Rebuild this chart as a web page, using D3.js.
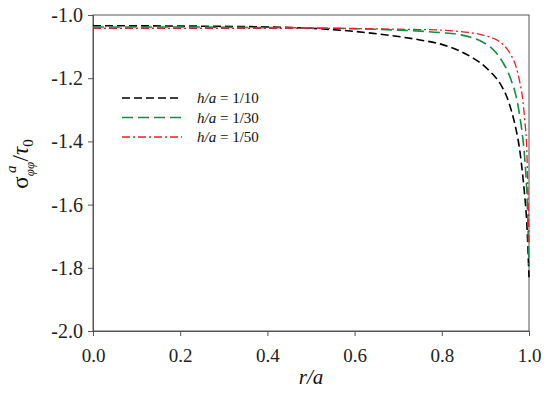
<!DOCTYPE html>
<html>
<head>
<meta charset="utf-8">
<script src="https://cdn.jsdelivr.net/npm/d3@7"></script>
<style>
body { margin: 0; background: #fff; }
svg text { font-family: "Liberation Serif", "Times New Roman", Times, serif; }
</style>
</head>
<body>
<script>
// data
var rPts = [0, 0.2, 0.4, 0.5, 0.6, 0.7, 0.75, 0.8, 0.84, 0.87, 0.89, 0.91, 0.925, 0.94, 0.95, 0.96, 0.97, 0.98, 0.985, 0.99, 0.995, 1.0];
var h10 = [-1.034, -1.035, -1.038, -1.042, -1.052, -1.068, -1.079, -1.093, -1.113, -1.135, -1.153, -1.178, -1.2, -1.232, -1.262, -1.305, -1.36, -1.44, -1.5, -1.57, -1.66, -1.83];
var h30 = [-1.038, -1.038, -1.040, -1.041, -1.043, -1.048, -1.051, -1.056, -1.062, -1.072, -1.083, -1.1, -1.12, -1.15, -1.175, -1.21, -1.255, -1.33, -1.38, -1.45, -1.56, -1.79];
var h50 = [-1.042, -1.042, -1.042, -1.042, -1.043, -1.045, -1.046, -1.048, -1.052, -1.057, -1.062, -1.07, -1.078, -1.093, -1.108, -1.13, -1.162, -1.22, -1.26, -1.33, -1.43, -1.72];
var seriesNames = ["1/10", "1/30", "1/50"];
var xTicks = [0, 0.2, 0.4, 0.6, 0.8, 1.0];
var yTicks = [-1.0, -1.2, -1.4, -1.6, -1.8, -2.0];

var W = 550, H = 393;
var m = {left: 93, right: 21, top: 15, bottom: 62};
var serif = "'Liberation Serif', 'Times New Roman', serif";

var svg = d3.select("body").append("svg")
    .attr("width", W)
    .attr("height", H);

var x = d3.scaleLinear().domain([0, 1]).range([m.left, W - m.right]);
var y = d3.scaleLinear().domain([-2.0, -1.0]).range([H - m.bottom, m.top]);

var frameCol = "#555";

// frame
svg.append("rect")
    .attr("x", x(0)).attr("y", y(-1))
    .attr("width", x(1) - x(0)).attr("height", y(-2) - y(-1))
    .attr("fill", "none").attr("stroke", frameCol).attr("stroke-width", 1);

// axes
var xAxis = svg.append("g")
    .attr("transform", "translate(0," + y(-2) + ")")
    .attr("font-family", serif)
    .call(d3.axisBottom(x).tickValues(xTicks).tickSize(5).tickPadding(13).tickFormat(d3.format(".1f")));
var yAxis = svg.append("g")
    .attr("transform", "translate(" + x(0) + ",0)")
    .call(d3.axisLeft(y).tickValues(yTicks).tickSize(5).tickPadding(5).tickFormat(d3.format(".1f")));

[xAxis, yAxis].forEach(function(a) {
    a.attr("font-family", serif).attr("font-size", null);
    a.select(".domain").attr("stroke", frameCol);
    a.selectAll(".tick line").attr("stroke", frameCol);
    a.selectAll(".tick text")
        .attr("fill", "#222")
        .style("font-family", serif);
});
xAxis.selectAll(".tick text").style("font-size", "19px");
yAxis.selectAll(".tick text").style("font-size", "20px")
    .text(function(d) { return d3.format(".1f")(d).replace("−", "-"); });

// curves
var series = [
    {vals: h10, color: "#000000", dash: "8,4", width: 1.6},
    {vals: h30, color: "#109040", dash: "11,5", width: 1.6},
    {vals: h50, color: "#ee1c25", dash: "8,3,2,3", width: 1.3}
];

var line = d3.line()
    .x(function(d) { return x(d[0]); })
    .y(function(d) { return y(d[1]); })
    .curve(d3.curveMonotoneX);

series.forEach(function(s) {
    svg.append("path")
        .datum(rPts.map(function(r, i) { return [r, s.vals[i]]; }))
        .attr("d", line)
        .attr("fill", "none")
        .attr("stroke", s.color)
        .attr("stroke-width", s.width)
        .attr("stroke-dasharray", s.dash);
});

// legend
var leg = svg.append("g");
series.forEach(function(s, i) {
    var ly = 98 + i * 19.5;
    leg.append("line")
        .attr("x1", 122).attr("x2", 182)
        .attr("y1", ly).attr("y2", ly)
        .attr("stroke", s.color)
        .attr("stroke-width", s.width)
        .attr("stroke-dasharray", s.dash);
    var t = leg.append("text")
        .attr("x", 197).attr("y", ly + 5)
        .style("font-size", "15px")
        .attr("fill", "#111");
    t.append("tspan").style("font-style", "italic").text("h/a");
    t.append("tspan").text(" = " + seriesNames[i]);
});

// x title
svg.append("text")
    .attr("x", (x(0) + x(1)) / 2)
    .attr("y", 384)
    .attr("text-anchor", "middle")
    .style("font-size", "21px")
    .style("font-style", "italic")
    .attr("fill", "#111")
    .text("r/a");

// y title
var yt = svg.append("text")
    .attr("transform", "translate(28," + 164 + ") rotate(-90)")
    .attr("text-anchor", "middle")
    .style("font-size", "23px")
    .attr("fill", "#111");
yt.append("tspan").text("σ");
yt.append("tspan").attr("dy", 6).style("font-size", "13px").style("font-style", "italic").text("φφ");
yt.append("tspan").attr("dy", -18).attr("dx", -11).style("font-size", "15px").style("font-style", "italic").text("a");
yt.append("tspan").attr("dy", 12).attr("dx", 4).text("/");
yt.append("tspan").style("font-style", "italic").text("τ");
yt.append("tspan").attr("dy", 5).style("font-size", "15px").text("0");
</script>
</body>
</html>
